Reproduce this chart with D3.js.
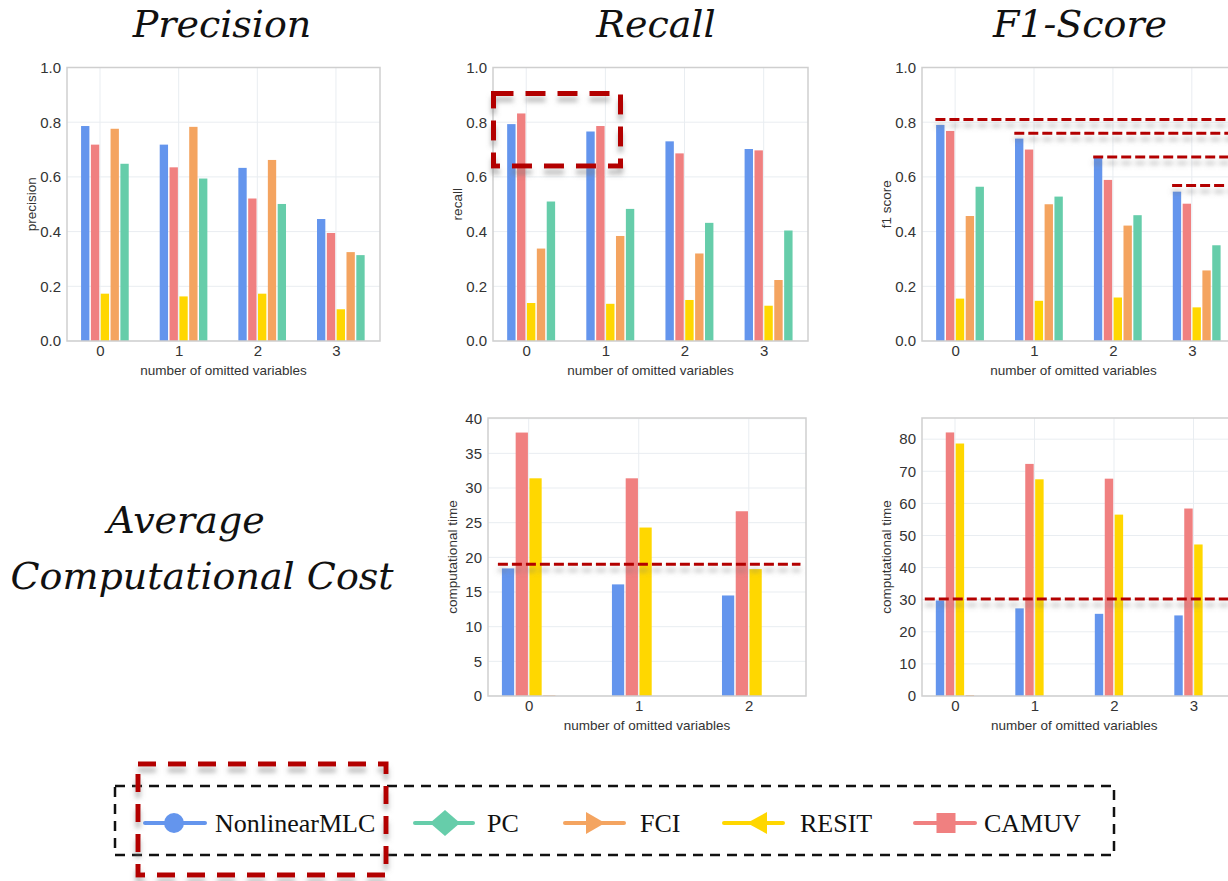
<!DOCTYPE html>
<html><head><meta charset="utf-8">
<script src="https://cdn.jsdelivr.net/npm/d3@7"></script>
<style>body{margin:0;background:#fff}svg{display:block}</style>
</head><body>
<svg id="c" width="1228" height="881"></svg>
<script>
// ---------------- DATA ----------------
const seriesNames = ["NonlinearMLC", "CAMUV", "RESIT", "FCI", "PC"];   // bar order inside each group
const seriesColors = ["#6495ED", "#F08080", "#FFD700", "#F4A460", "#66CDAA"];
const omitted4 = ["0", "1", "2", "3"];
const omitted3 = ["0", "1", "2"];

// values per series (rows follow seriesNames), per number of omitted variables (columns)
const precision = [
  [0.786, 0.718, 0.633, 0.446],
  [0.718, 0.635, 0.521, 0.395],
  [0.173, 0.163, 0.173, 0.116],
  [0.776, 0.783, 0.662, 0.325],
  [0.648, 0.594, 0.501, 0.314]
];
const recall = [
  [0.793, 0.766, 0.730, 0.702],
  [0.832, 0.786, 0.686, 0.697],
  [0.139, 0.136, 0.150, 0.129],
  [0.338, 0.384, 0.320, 0.223],
  [0.510, 0.483, 0.432, 0.404]
];
const f1score = [
  [0.790, 0.740, 0.674, 0.546],
  [0.768, 0.700, 0.589, 0.502],
  [0.155, 0.147, 0.159, 0.123],
  [0.457, 0.500, 0.422, 0.258],
  [0.564, 0.528, 0.460, 0.350]
];
const timeSmall = [
  [18.4, 16.1, 14.5],
  [38.0, 31.4, 26.65],
  [31.4, 24.3, 18.3],
  [0.1, 0, 0],
  [0, 0, 0]
];
const timeLarge = [
  [29.75, 27.3, 25.6, 25.1],
  [82.1, 72.3, 67.7, 58.4],
  [78.65, 67.5, 56.5, 47.2],
  [0.3, 0, 0, 0],
  [0, 0, 0, 0]
];
const unitTicks = [0, 0.2, 0.4, 0.6, 0.8, 1.0];
const timeSmallTicks = [0, 5, 10, 15, 20, 25, 30, 35, 40];
const timeLargeTicks = [0, 10, 20, 30, 40, 50, 60, 70, 80];

// red dashed guide annotations
const f1GuideValues = [0.81, 0.76, 0.673, 0.569];
const f1GuideFrom = [0, 1, 2, 3];
const timeSmallGuide = 19.0;
const timeLargeGuide = 30.2;

const legendNames = ["NonlinearMLC", "PC", "FCI", "RESIT", "CAMUV"];
const legendShapes = ["circle", "diamond", "triRight", "triLeft", "square"];
const legendColors = ["#6495ED", "#66CDAA", "#F4A460", "#FFD700", "#F08080"];

const titles = ["Precision", "Recall", "F1-Score"];
const sideTitle = ["Average", "Computational Cost"];
const xLabel = "number of omitted variables";

// ---------------- LAYOUT ----------------
const svg = d3.select("#c");
const defs = svg.append("defs");
const f = defs.append("filter").attr("id", "sh").attr("filterUnits", "userSpaceOnUse")
  .attr("x", 0).attr("y", 0).attr("width", 1300).attr("height", 900);
f.append("feDropShadow").attr("dx", 0).attr("dy", 6).attr("stdDeviation", 2.5)
  .attr("flood-color", "#777").attr("flood-opacity", 0.5);

const panels = [
  {cats: omitted4, data: precision, ticks: unitTicks, fmt: d3.format(".1f"), ymax: 1.0, ylab: "precision",
   l: 67, r: 380, t: 67.5, b: 341, xd: [-0.42, 3.56]},
  {cats: omitted4, data: recall, ticks: unitTicks, fmt: d3.format(".1f"), ymax: 1.0, ylab: "recall",
   l: 493, r: 808, t: 67.5, b: 341, xd: [-0.42, 3.56]},
  {cats: omitted4, data: f1score, ticks: unitTicks, fmt: d3.format(".1f"), ymax: 1.0, ylab: "f1 score",
   l: 922, r: 1236, t: 67.5, b: 341, xd: [-0.42, 3.56]},
  {cats: omitted3, data: timeSmall, ticks: timeSmallTicks, fmt: d3.format("d"), ymax: 40.1, ylab: "computational time",
   l: 488, r: 806, t: 418, b: 696, xd: [-0.37, 2.52]},
  {cats: omitted4, data: timeLarge, ticks: timeLargeTicks, fmt: d3.format("d"), ymax: 86.6, ylab: "computational time",
   l: 922, r: 1238, t: 418, b: 696, xd: [-0.415, 3.56]}
];

const sans = "'Liberation Sans', Arial, sans-serif";
const serifTitle = "'DejaVu Serif', Georgia, serif";

panels.forEach((p, pi) => {
  const g = svg.append("g");
  const x = d3.scaleLinear().domain(p.xd).range([p.l, p.r]);
  const y = d3.scaleLinear().domain([0, p.ymax]).range([p.b, p.t]);
  p.x = x; p.y = y;
  const idx = p.cats.map((c, i) => i);
  // grid
  g.selectAll(".hg").data(p.ticks).join("line")
    .attr("x1", p.l).attr("x2", p.r).attr("y1", d => y(d)).attr("y2", d => y(d))
    .attr("stroke", "#e9edf1").attr("stroke-width", 1);
  g.selectAll(".vg").data(idx).join("line")
    .attr("x1", d => x(d)).attr("x2", d => x(d)).attr("y1", p.t).attr("y2", p.b)
    .attr("stroke", "#e9edf1").attr("stroke-width", 1);
  // bars
  const step = x(0.125) - x(0);
  p.data.forEach((vals, si) => {
    g.selectAll(".b" + si).data(vals).join("rect")
      .attr("x", (d, i) => x(i) + (si - 2) * step + 0.7)
      .attr("width", step - 1.5)
      .attr("y", d => y(d))
      .attr("height", d => y(0) - y(d))
      .attr("fill", seriesColors[si]);
  });
  // frame
  g.append("rect").attr("x", p.l).attr("y", p.t).attr("width", p.r - p.l).attr("height", p.b - p.t)
    .attr("fill", "none").attr("stroke", "#cfcfcf").attr("stroke-width", 1.5);
  // y axis
  const ya = d3.axisLeft(y).tickValues(p.ticks).tickFormat(p.fmt).tickSize(0).tickPadding(6);
  const yg = svg.append("g").attr("transform", `translate(${p.l},0)`).call(ya);
  yg.select(".domain").remove();
  yg.selectAll("text").attr("font-family", sans).attr("font-size", 15).attr("fill", "#333");
  // x axis
  const xa = d3.axisBottom(x).tickValues(idx).tickFormat(i => p.cats[i]).tickSize(0).tickPadding(4);
  const xg = svg.append("g").attr("transform", `translate(0,${p.b})`).call(xa);
  xg.select(".domain").remove();
  xg.selectAll("text").attr("font-family", sans).attr("font-size", 15).attr("fill", "#333");
  // labels
  svg.append("text").attr("x", (p.l + p.r) / 2 - (pi === 2 || pi === 4 ? 0 : 0)).attr("y", p.b + 29)
    .attr("text-anchor", "middle").attr("dominant-baseline", "central")
    .attr("font-family", sans).attr("font-size", 13.5).attr("fill", "#333")
    .text(xLabel)
    .attr("x", pi === 2 || pi === 4 ? x(1.5) : (p.l + p.r) / 2);
  svg.append("text")
    .attr("transform", `translate(${p.l - 36},${(p.t + p.b) / 2}) rotate(-90)`)
    .attr("text-anchor", "middle").attr("dominant-baseline", "central")
    .attr("font-family", sans).attr("font-size", 13.5).attr("fill", "#333")
    .text(p.ylab);
});

// ---------------- ANNOTATIONS ----------------
const red = "#b30000";
const ann = svg.append("g").attr("filter", "url(#sh)");
const pF1 = panels[2];
ann.selectAll(".f1g").data(f1GuideValues).join("line")
  .attr("x1", (d, i) => pF1.x(f1GuideFrom[i] - 0.25)).attr("x2", 1240)
  .attr("y1", d => pF1.y(d)).attr("y2", d => pF1.y(d))
  .attr("stroke", red).attr("stroke-width", 3).attr("stroke-dasharray", "10,4");
const pT1 = panels[3];
ann.append("line").attr("x1", pT1.x(-0.28)).attr("x2", pT1.x(2.47))
  .attr("y1", pT1.y(timeSmallGuide)).attr("y2", pT1.y(timeSmallGuide))
  .attr("stroke", red).attr("stroke-width", 3).attr("stroke-dasharray", "10,4");
const pT2 = panels[4];
ann.append("line").attr("x1", pT2.x(-0.38)).attr("x2", 1240)
  .attr("y1", pT2.y(timeLargeGuide)).attr("y2", pT2.y(timeLargeGuide))
  .attr("stroke", red).attr("stroke-width", 3).attr("stroke-dasharray", "10,4");
// box on recall panel
const pR = panels[1];
ann.append("rect").attr("x", pR.x(-0.42) + 0.5).attr("y", pR.y(0.905)).attr("width", 127).attr("height", pR.y(0.64) - pR.y(0.905))
  .attr("fill", "none").attr("stroke", red).attr("stroke-width", 5).attr("stroke-dasharray", "20,12");

// ---------------- TITLES ----------------
const titleX = [222, 656, 1080];
titles.forEach((t, i) => {
  svg.append("text").attr("x", titleX[i]).attr("y", 37).attr("text-anchor", "middle")
    .attr("font-family", serifTitle).attr("font-style", "italic").attr("font-size", 38).attr("fill", "#111").text(t);
});
svg.append("text").attr("x", 186).attr("y", 533).attr("text-anchor", "middle")
  .attr("font-family", serifTitle).attr("font-style", "italic").attr("font-size", 38).attr("fill", "#111").text(sideTitle[0]);
svg.append("text").attr("x", 202).attr("y", 589).attr("text-anchor", "middle")
  .attr("font-family", serifTitle).attr("font-style", "italic").attr("font-size", 38).attr("fill", "#111").text(sideTitle[1]);

// ---------------- LEGEND ----------------
const lg = svg.append("g");
lg.append("rect").attr("x", 115).attr("y", 786).attr("width", 999).attr("height", 69)
  .attr("fill", "none").attr("stroke", "#111").attr("stroke-width", 2.5).attr("stroke-dasharray", "10,7");
const legendLayout = [
  {l1: 145, l2: 205, m: 174, tx: 215},
  {l1: 415, l2: 473, m: 445, tx: 487},
  {l1: 565, l2: 624, m: 595, tx: 640},
  {l1: 724, l2: 783, m: 757, tx: 800},
  {l1: 915, l2: 975, m: 946, tx: 984}
];
const ly = 823;
legendNames.forEach((n, i) => {
  const L = legendLayout[i], c = legendColors[i];
  lg.append("line").attr("x1", L.l1).attr("x2", L.l2).attr("y1", ly).attr("y2", ly)
    .attr("stroke", c).attr("stroke-width", 4).attr("stroke-linecap", "round");
  const s = legendShapes[i];
  if (s === "circle") lg.append("circle").attr("cx", L.m).attr("cy", ly).attr("r", 10).attr("fill", c);
  if (s === "diamond") lg.append("path").attr("d", `M${L.m - 15},${ly} L${L.m},${ly - 13} L${L.m + 15},${ly} L${L.m},${ly + 13}Z`).attr("fill", c);
  if (s === "triRight") lg.append("path").attr("d", `M${L.m - 9},${ly - 11} L${L.m + 10},${ly} L${L.m - 9},${ly + 11}Z`).attr("fill", c);
  if (s === "triLeft") lg.append("path").attr("d", `M${L.m + 10},${ly - 11} L${L.m - 10},${ly} L${L.m + 10},${ly + 11}Z`).attr("fill", c);
  if (s === "square") lg.append("rect").attr("x", L.m - 9.5).attr("y", ly - 10).attr("width", 19).attr("height", 20).attr("fill", c);
  lg.append("text").attr("x", L.tx).attr("y", ly + 9).attr("font-family", "'Liberation Serif', 'Times New Roman', serif")
    .attr("font-size", 26).attr("fill", "#111").text(n);
});
svg.append("rect").attr("x", 138).attr("y", 764).attr("width", 248).attr("height", 111)
  .attr("fill", "none").attr("stroke", red).attr("stroke-width", 5).attr("stroke-dasharray", "18,12")
  .attr("filter", "url(#sh)");
</script>
</body></html>
